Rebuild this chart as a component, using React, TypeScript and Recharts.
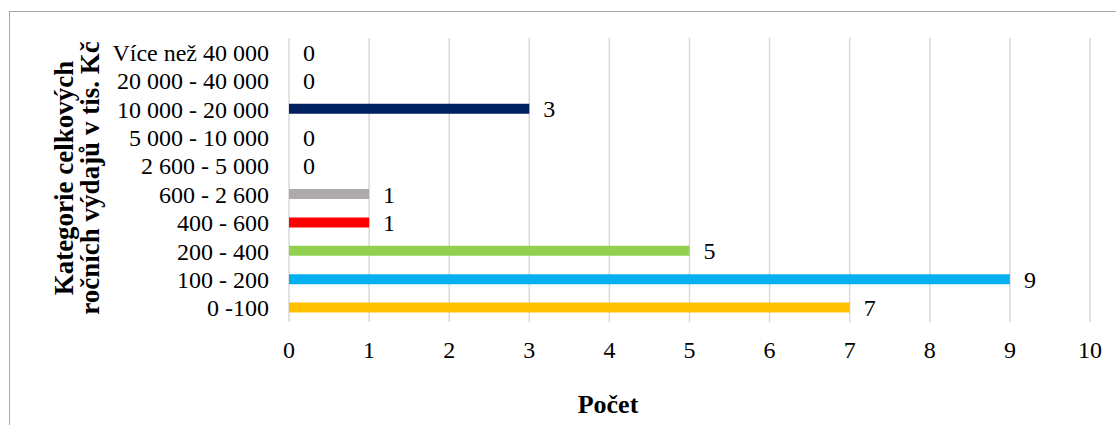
import { Bar, BarChart, CartesianGrid, Cell, LabelList, XAxis, YAxis } from 'recharts'

// categories listed bottom to top
const categories = [
  '0 -100',
  '100 - 200',
  '200 - 400',
  '400 - 600',
  '600 - 2 600',
  '2 600 - 5 000',
  '5 000 - 10 000',
  '10 000 - 20 000',
  '20 000 - 40 000',
  'Více než 40 000',
]
const counts = [7, 9, 5, 1, 1, 0, 0, 3, 0, 0]
const xTicks = [0, 1, 2, 3, 4, 5, 6, 7, 8, 9, 10]

const barColors = [
  '#FFC000',
  '#00B0F0',
  '#92D050',
  '#FF0000',
  '#AEAAAA',
  '#7F7F7F',
  '#7F7F7F',
  '#002060',
  '#7F7F7F',
  '#7F7F7F',
]

const font = '"Liberation Serif", "Times New Roman", serif'

const chartData = categories.map((name, i) => ({ name, value: counts[i] }))

export default function App() {
  return (
    <div style={{ position: 'absolute', left: 0, top: 0, width: 1116, height: 425, overflow: 'hidden', background: '#fff', fontFamily: font }}>
      {/* chart frame, runs past the right and bottom edges */}
      <div
        style={{
          position: 'absolute',
          left: 9,
          top: 11,
          width: 1300,
          height: 600,
          borderTop: '1px solid #a6a6a6',
          borderLeft: '1px solid #a6a6a6',
        }}
      />
      <div style={{ position: 'absolute', left: 0, top: 0 }}>
        <BarChart
          width={1116}
          height={425}
          data={chartData}
          layout="vertical"
          margin={{ top: 38, right: 26, bottom: 0, left: 0 }}
        >
          <CartesianGrid horizontal={false} stroke="#d9d9d9" strokeWidth={1.5} />
          <XAxis
            type="number"
            domain={[0, 10]}
            ticks={xTicks}
            interval={0}
            axisLine={false}
            tickLine={false}
            tickSize={0}
            tickMargin={19}
            height={103}
            tick={{ fill: '#000', fontSize: 24, fontFamily: font }}
          />
          <YAxis
            type="category"
            dataKey="name"
            reversed
            width={289}
            interval={0}
            axisLine={false}
            tickLine={false}
            tickSize={0}
            tickMargin={20}
            tick={{ fill: '#000', fontSize: 24, fontFamily: font }}
          />
          {/* tiny minPointSize keeps the zero bars (and their labels) in the chart */}
          <Bar dataKey="value" barSize={10} minPointSize={0.01} isAnimationActive={false}>
            {chartData.map((entry, index) => (
              <Cell key={`cell-${index}`} fill={entry.value === 0 ? 'none' : barColors[index]} />
            ))}
            <LabelList
              dataKey="value"
              position="right"
              offset={14}
              fill="#000"
              style={{ fontSize: 24, fontFamily: font }}
            />
          </Bar>
        </BarChart>
      </div>
      {/* axis titles */}
      <div
        style={{
          position: 'absolute',
          left: 77,
          top: 178,
          transform: 'translate(-50%, -50%) rotate(-90deg)',
          whiteSpace: 'nowrap',
          textAlign: 'center',
          fontWeight: 'bold',
          fontSize: 27,
          lineHeight: '26px',
          color: '#000',
        }}
      >
        Kategorie celkových
        <br />
        ročních výdajů v tis. Kč
      </div>
      <div
        style={{
          position: 'absolute',
          left: 608,
          top: 405,
          transform: 'translate(-50%, -50%)',
          whiteSpace: 'nowrap',
          fontWeight: 'bold',
          fontSize: 26,
          color: '#000',
        }}
      >
        Počet
      </div>
    </div>
  )
}
